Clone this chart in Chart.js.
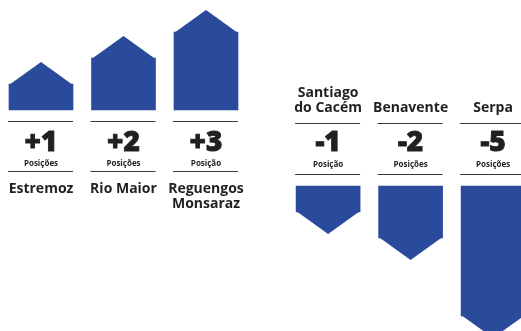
<!DOCTYPE html>
<html lang="pt">
<head>
<meta charset="UTF-8">
<title>Variação de posições</title>
<script src="https://cdn.jsdelivr.net/npm/chart.js"></script>
<style>
  html, body { margin: 0; padding: 0; background: #fff; }
  #wrap { width: 521px; height: 331px; position: relative; }
</style>
</head>
<body>
<div id="wrap"><canvas id="chart"></canvas></div>
<script>
// concelhos que subiram
const upTowns = ['Estremoz', 'Rio Maior', ['Reguengos', 'Monsaraz']];
const upValues = [1, 2, 3];
const upUnits = ['Posições', 'Posições', 'Posição'];

// concelhos que desceram
const downTowns = [['Santiago', 'do Cacém'], 'Benavente', 'Serpa'];
const downValues = [-1, -2, -5];
const downUnits = ['Posição', 'Posições', 'Posições'];

const BLUE = '#2a4a9b';
const INK = '#231f20';
const RULE = '#3a3a3a';
const FONT = '"Open Sans", "Noto Sans", sans-serif';

const GAP = 1.48;      // distância entre o último que subiu e o primeiro que desceu (colunas)
const COL = 82.5;      // largura de uma coluna em px
const UNIT = 26;       // px por posição
const TIP = 22;        // altura da ponta da seta
const UP_BASE = 110;   // linha de base das barras positivas
const DOWN_BASE = 186; // linha de base das barras negativas
const W = 521, H = 331;

const upData = upValues.map((v, i) => ({ x: i, y: v }));
const downData = downValues.map((v, i) => ({ x: upValues.length - 1 + GAP + i, y: v }));

function signed(v) { return (v > 0 ? '+' : '') + v; }
function lines(label) { return Array.isArray(label) ? label : [label]; }

function rule(ctx, x, y) {
  ctx.beginPath();
  ctx.moveTo(x - 33, y);
  ctx.lineTo(x + 32, y);
  ctx.stroke();
}

// número grande com um traço fino para ficar mais carregado
function bigNumber(ctx, text, x, y) {
  ctx.font = '800 28px ' + FONT;
  ctx.lineWidth = 0.9;
  ctx.strokeStyle = INK;
  ctx.fillText(text, x, y);
  ctx.strokeText(text, x, y);
  ctx.strokeStyle = RULE;
  ctx.lineWidth = 1.2;
}

const arrows = {
  id: 'arrows',
  afterDatasetsDraw(chart) {
    const ctx = chart.ctx;
    ctx.save();
    ctx.fillStyle = BLUE;
    chart.data.datasets.forEach((ds, di) => {
      const dir = ds.data[0].y > 0 ? -1 : 1;
      chart.getDatasetMeta(di).data.forEach(bar => {
        const half = bar.width / 2;
        ctx.beginPath();
        ctx.moveTo(bar.x - half, bar.y - dir);
        ctx.lineTo(bar.x, bar.y + dir * TIP);
        ctx.lineTo(bar.x + half, bar.y - dir);
        ctx.closePath();
        ctx.fill();
      });
    });
    ctx.restore();
  },
  afterDraw(chart) {
    const ctx = chart.ctx;
    ctx.save();
    ctx.fillStyle = INK;
    ctx.strokeStyle = RULE;
    ctx.lineWidth = 1.2;
    ctx.textAlign = 'center';
    ctx.textBaseline = 'alphabetic';

    // grupo que subiu: texto por baixo das barras
    chart.getDatasetMeta(0).data.forEach((bar, i) => {
      const x = bar.x, b = bar.base;
      rule(ctx, x, b + 11.5);
      bigNumber(ctx, signed(upValues[i]), x, b + 41);
      ctx.font = '700 8px ' + FONT;
      ctx.fillText(upUnits[i], x, b + 55.5);
      rule(ctx, x, b + 61.5);
      ctx.font = '700 14px ' + FONT;
      lines(upTowns[i]).forEach((t, k) => ctx.fillText(t, x, b + 83 + k * 15));
    });

    // grupo que desceu: texto por cima das barras
    chart.getDatasetMeta(1).data.forEach((bar, i) => {
      const x = bar.x, b = bar.base;
      const names = lines(downTowns[i]);
      ctx.font = '700 14px ' + FONT;
      names.forEach((t, k) => ctx.fillText(t, x, b - 74.5 - (names.length - 1 - k) * 15));
      rule(ctx, x, b - 62.5);
      bigNumber(ctx, signed(downValues[i]), x, b - 35);
      ctx.font = '700 8px ' + FONT;
      ctx.fillText(downUnits[i], x, b - 19.5);
      rule(ctx, x, b - 11.5);
    });
    ctx.restore();
  }
};

const xMin = -41 / COL;

new Chart(document.getElementById('chart'), {
  type: 'bar',
  data: {
    datasets: [
      { data: upData, yAxisID: 'y', backgroundColor: BLUE, borderWidth: 0 },
      { data: downData, yAxisID: 'yDown', backgroundColor: BLUE, borderWidth: 0 }
    ]
  },
  options: {
    responsive: true,
    maintainAspectRatio: false,
    animation: false,
    layout: { padding: 0 },
    datasets: { bar: { grouped: false, barThickness: 64 } },
    plugins: { legend: { display: false }, tooltip: { enabled: false } },
    scales: {
      x: { type: 'linear', display: false, offset: false, bounds: 'data',
           min: xMin, max: xMin + W / COL },
      y: { type: 'linear', display: false, bounds: 'data',
           min: -(H - UP_BASE) / UNIT, max: UP_BASE / UNIT },
      yDown: { type: 'linear', display: false, bounds: 'data',
               min: -(H - DOWN_BASE) / UNIT, max: DOWN_BASE / UNIT }
    }
  },
  plugins: [arrows]
});
</script>
</body>
</html>
